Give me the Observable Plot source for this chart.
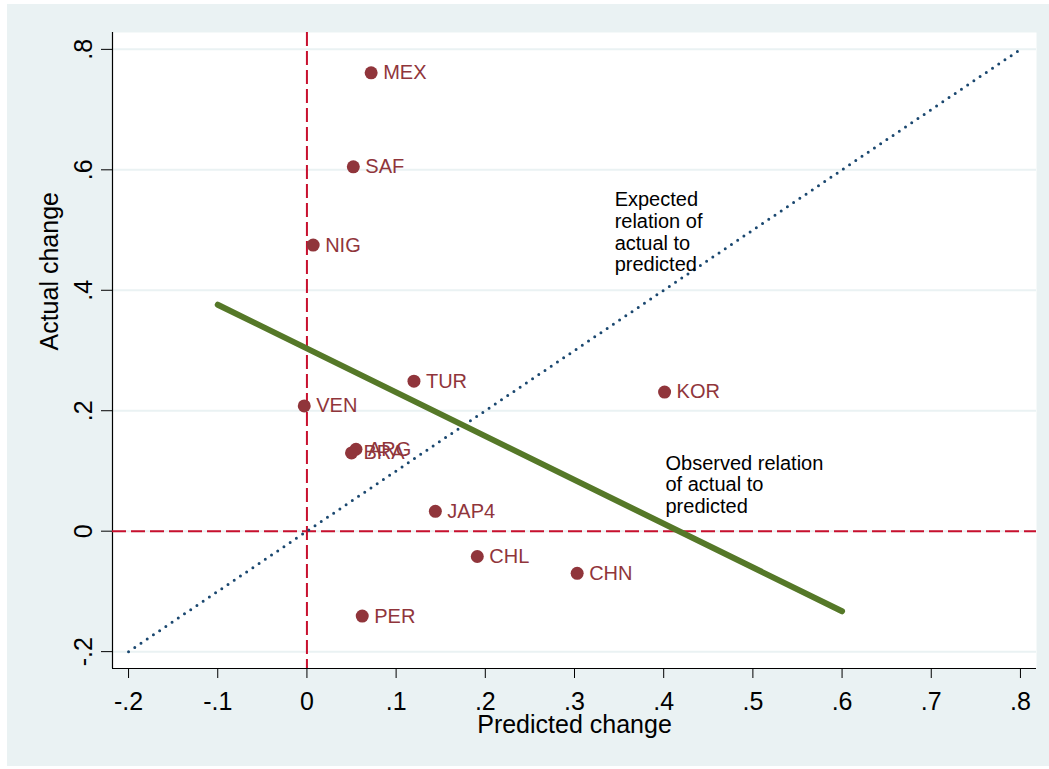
<!DOCTYPE html>
<html>
<head>
<meta charset="utf-8">
<script src="https://cdn.jsdelivr.net/npm/d3@7"></script>
<script src="https://cdn.jsdelivr.net/npm/@observablehq/plot@0.6"></script>
<style>
  html, body { margin: 0; padding: 0; background: #ffffff; }
  #wrap { position: relative; width: 1049px; height: 769px; overflow: hidden; }
  #bg { position: absolute; left: 7px; top: 4px; width: 1042px; height: 762px; background: #eaf2f3; }
  #chart { position: absolute; left: 0; top: 0; }
</style>
</head>
<body>
<div id="wrap"><div id="bg"></div><div id="chart"></div></div>
<script>
// ---- data ----
const countries = ["MEX", "SAF", "NIG", "TUR", "VEN", "ARG", "BRA", "KOR", "JAP4", "CHL", "CHN", "PER"];
const predicted = [0.072, 0.052, 0.007, 0.120, -0.003, 0.055, 0.050, 0.401, 0.144, 0.191, 0.303, 0.062];
const actual    = [0.761, 0.605, 0.475, 0.249, 0.208, 0.136, 0.130, 0.231, 0.033, -0.042, -0.070, -0.141];

// observed (fitted) relation endpoints
const fitX = [-0.1, 0.6];
const fitY = [0.376, -0.133];
// expected relation (45-degree line) endpoints
const diagX = [-0.2, 0.8];
const diagY = [-0.2, 0.8];

const xTicks = [-0.2, -0.1, 0, 0.1, 0.2, 0.3, 0.4, 0.5, 0.6, 0.7, 0.8];
const xTickLabels = ["-.2", "-.1", "0", ".1", ".2", ".3", ".4", ".5", ".6", ".7", ".8"];
const yTicks = [-0.2, 0, 0.2, 0.4, 0.6, 0.8];
const yTickLabels = ["-.2", "0", ".2", ".4", ".6", ".8"];

const annotationText = ["Expected\nrelation of\nactual to\npredicted", "Observed relation\nof actual to\npredicted"];
const annotationX = [0.345, 0.402];
const annotationY = [0.565, 0.128];

const xTitle = "Predicted change";
const yTitle = "Actual change";

// ---- build tables ----
const points = countries.map((c, i) => ({country: c, x: predicted[i], y: actual[i]}));
const fitLine = fitX.map((x, i) => ({x, y: fitY[i]}));
const diagLine = diagX.map((x, i) => ({x, y: diagY[i]}));
const notes = annotationText.map((t, i) => ({text: t, x: annotationX[i], y: annotationY[i]}));
const yTickRows = yTicks.map((v, i) => ({y: v, label: yTickLabels[i]}));

const FONT = "'Liberation Sans', Arial, Helvetica, sans-serif";
const MAROON = "#90353b";
const RED = "#c8102e";

const xLabel = d => xTickLabels[xTicks.indexOf(d)];

const chart = Plot.plot({
  width: 1049,
  height: 769,
  marginLeft: 112,
  marginRight: 13,
  marginTop: 32,
  marginBottom: 101,
  style: {background: "transparent", fontFamily: FONT, color: "#000"},
  x: {domain: [-0.218, 0.818]},
  y: {domain: [-0.228, 0.828]},
  marks: [
    Plot.frame({fill: "white", stroke: "none"}),
    Plot.gridY(yTicks, {stroke: "#eaf2f3", strokeOpacity: 1, strokeWidth: 2}),
    Plot.axisX(xTicks, {tickSize: 10, tickPadding: 14, fontSize: 25, tickFormat: xLabel, label: null, stroke: "#000"}),
    Plot.axisY(yTicks, {tickSize: 11, tickFormat: () => "", label: null, stroke: "#000"}),
    Plot.text(yTickRows, {y: "y", text: "label", frameAnchor: "left", dx: -21, rotate: -90,
      textAnchor: "middle", lineAnchor: "bottom", fontSize: 25, fill: "#000"}),
    Plot.ruleY([-0.228], {stroke: "#000", strokeWidth: 1.2}),
    Plot.ruleX([-0.218], {stroke: "#000", strokeWidth: 1.2}),
    Plot.ruleX([0], {stroke: RED, strokeWidth: 2, strokeDasharray: "14,5"}),
    Plot.ruleY([0], {stroke: RED, strokeWidth: 2, strokeDasharray: "14,5"}),
    Plot.line(diagLine, {x: "x", y: "y", stroke: "#1a476f", strokeWidth: 3, strokeDasharray: "0,7.5", strokeLinecap: "round"}),
    Plot.line(fitLine, {x: "x", y: "y", stroke: "#557828", strokeWidth: 6, strokeLinecap: "round"}),
    Plot.dot(points, {x: "x", y: "y", r: 6.5, fill: MAROON, stroke: "none"}),
    Plot.text(points, {x: "x", y: "y", text: "country", dx: 12, textAnchor: "start", lineAnchor: "middle", fontSize: 20, fill: MAROON}),
    Plot.text(notes, {x: "x", y: "y", text: "text", textAnchor: "start", lineAnchor: "top", lineHeight: 1.085, fontSize: 20, fill: "#000"}),
    Plot.text([xTitle], {frameAnchor: "bottom", dy: 64, lineAnchor: "bottom", fontSize: 25, fill: "#000"}),
    Plot.text([yTitle], {frameAnchor: "left", dx: -55, rotate: -90, lineAnchor: "bottom", fontSize: 25, fill: "#000"})
  ]
});
document.getElementById("chart").appendChild(chart);
</script>
</body>
</html>
